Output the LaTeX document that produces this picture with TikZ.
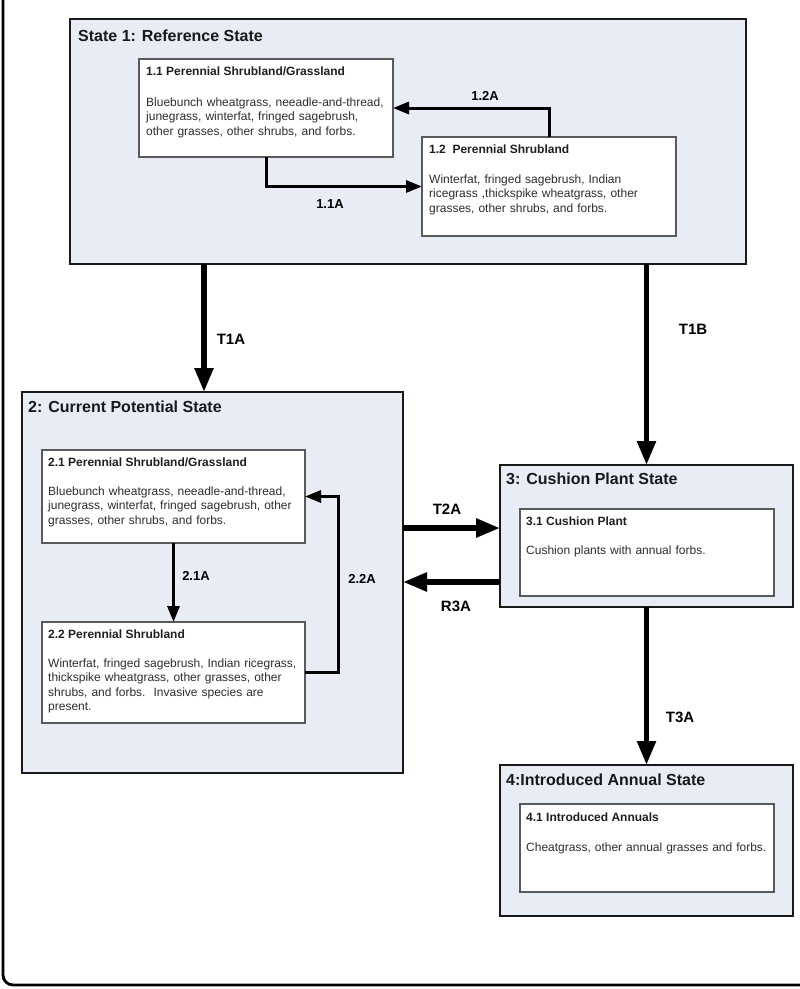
\documentclass[tikz,border=0pt]{standalone}
\usepackage{fontspec}
\setmainfont{Liberation Sans}
\usetikzlibrary{arrows.meta,calc}
\definecolor{statefill}{RGB}{231,236,245}
\definecolor{innerdraw}{RGB}{90,90,90}
\definecolor{bodytext}{RGB}{45,45,45}
\tikzset{
  statebox/.style={draw=black!90, line width=1.6pt, fill=statefill, inner sep=0pt, outer sep=0pt, anchor=north west},
  innerbox/.style={draw=innerdraw, line width=1.2pt, fill=white, inner sep=0pt, outer sep=0pt, anchor=north west},
  statetitle/.style={anchor=base west, inner sep=0pt, font=\fontsize{16}{19}\selectfont\bfseries, text=black!90},
  innertitle/.style={anchor=base west, inner sep=0pt, font=\fontsize{12}{14.5}\selectfont\bfseries, text=black!88},
  bodytxt/.style={anchor=base west, inner sep=0pt, text width=300pt, align=left, font=\fontsize{12}{14.5}\selectfont, text=bodytext},
  biglabel/.style={inner sep=0pt, font=\fontsize{15}{18}\selectfont\bfseries},
  smalllabel/.style={inner sep=0pt, font=\fontsize{13}{16}\selectfont\bfseries},
  arrbig/.style={line width=5.5pt, -{Triangle[length=24pt,width=18pt]}},
  arrsmall/.style={line width=3pt, -{Triangle[length=16pt,width=12pt]}},
}
\begin{document}
\begin{tikzpicture}[x=1pt,y=-1pt]
\useasboundingbox (0,0) rectangle (800,989);
\begin{scope}
\clip (0,0) rectangle (800,989);
\draw[line width=2.8pt, rounded corners=10pt] (3,-40) rectangle (840,985);
\end{scope}

% State 1
\node[statebox, minimum width=676pt, minimum height=245pt] (s1) at (70,19) {};
\node[statetitle] (s1t) at ($(s1.north west)+(8,22)$) {State 1: Reference State};
\node[innerbox, minimum width=254pt, minimum height=98pt] (b11) at (139,59) {};
\node[innertitle] (b11t) at ($(b11.north west)+(7,16)$) {1.1 Perennial Shrubland/Grassland};
\node[bodytxt] (b11b) at ($(b11.north west)+(7,47)$) {Bluebunch wheatgrass, neeadle-and-thread,\\junegrass, winterfat, fringed sagebrush,\\other grasses, other shrubs, and forbs.};
\node[innerbox, minimum width=254pt, minimum height=99pt] (b12) at (422,137) {};
\node[innertitle] (b12t) at ($(b12.north west)+(7,16)$) {1.2\ \ Perennial Shrubland};
\node[bodytxt] (b12b) at ($(b12.north west)+(7,46)$) {Winterfat, fringed sagebrush, Indian\\ricegrass ,thickspike wheatgrass, other\\grasses, other shrubs, and forbs.};

% State 2
\node[statebox, minimum width=381pt, minimum height=381pt] (s2) at (22,392) {};
\node[statetitle] (s2t) at ($(s2.north west)+(6,20)$) {2: Current Potential State};
\node[innerbox, minimum width=263pt, minimum height=93pt] (b21) at (42,450) {};
\node[innertitle] (b21t) at ($(b21.north west)+(6,16)$) {2.1 Perennial Shrubland/Grassland};
\node[bodytxt] (b21b) at ($(b21.north west)+(6,45)$) {Bluebunch wheatgrass, neeadle-and-thread,\\junegrass, winterfat, fringed sagebrush, other\\grasses, other shrubs, and forbs.};
\node[innerbox, minimum width=263pt, minimum height=101pt] (b22) at (42,622) {};
\node[innertitle] (b22t) at ($(b22.north west)+(6,16)$) {2.2 Perennial Shrubland};
\node[bodytxt] (b22b) at ($(b22.north west)+(6,45)$) {Winterfat, fringed sagebrush, Indian ricegrass,\\thickspike wheatgrass, other grasses, other\\shrubs, and forbs.\ \ Invasive species are\\present.};

% State 3
\node[statebox, minimum width=293pt, minimum height=142pt] (s3) at (500,465) {};
\node[statetitle] (s3t) at ($(s3.north west)+(6,19)$) {3: Cushion Plant State};
\node[innerbox, minimum width=254pt, minimum height=87pt] (b31) at (520,509) {};
\node[innertitle] (b31t) at ($(b31.north west)+(6,16)$) {3.1 Cushion Plant};
\node[bodytxt] (b31b) at ($(b31.north west)+(6,45)$) {Cushion plants with annual forbs.};

% State 4
\node[statebox, minimum width=293pt, minimum height=151pt] (s4) at (500,765) {};
\node[statetitle] (s4t) at ($(s4.north west)+(6,20)$) {4:Introduced Annual State};
\node[innerbox, minimum width=254pt, minimum height=88pt] (b41) at (520,804) {};
\node[innertitle] (b41t) at ($(b41.north west)+(6,17)$) {4.1 Introduced Annuals};
\node[bodytxt] (b41b) at ($(b41.north west)+(6,47)$) {Cheatgrass, other annual grasses and forbs.};

% helper coordinates
\coordinate (t1ax) at (204,0);
\coordinate (t2ay) at (0,528);
\coordinate (r3ay) at (0,582);
\coordinate (c22a) at (338,0);

% internal transitions
\draw[arrsmall] (b11.south) |- (b12.west);
\draw[arrsmall] (b12.north) |- (b11.east);
\draw[arrsmall] (b21.south) -- (b22.north);
\draw[arrsmall] (b22.east) -- (b22.east -| c22a) |- (b21.east);

% state transitions
\draw[arrbig] (s1.south -| t1ax) -- (s2.north -| t1ax);
\draw[arrbig] (s1.south -| s3.north) -- (s3.north);
\draw[arrbig] (s2.east |- t2ay) -- (s3.west |- t2ay);
\draw[arrbig] (s3.west |- r3ay) -- (s2.east |- r3ay);
\draw[arrbig] (s3.south) -- (s4.north);

% labels
\node[smalllabel] (l12a) at (485,96) {1.2A};
\node[smalllabel] (l11a) at (330,204) {1.1A};
\node[smalllabel] (l21a) at (196,576) {2.1A};
\node[smalllabel] (l22a) at (362,579) {2.2A};
\node[biglabel] (lt1a) at (231,339) {T1A};
\node[biglabel] (lt1b) at (693,329) {T1B};
\node[biglabel] (lt2a) at (447,509) {T2A};
\node[biglabel] (lr3a) at (456,606) {R3A};
\node[biglabel] (lt3a) at (680,717) {T3A};
\end{tikzpicture}
\end{document}
